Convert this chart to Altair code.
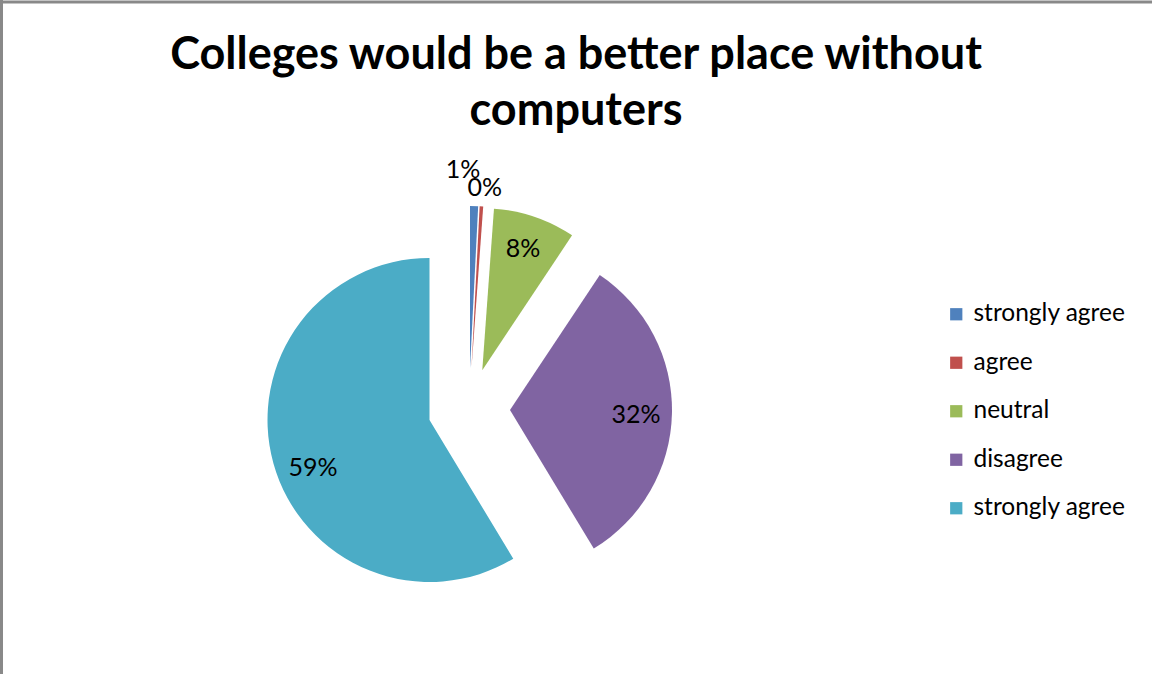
import json
import altair as alt
import pandas as pd

# ---- data ----
categories = ["strongly agree", "agree", "neutral", "disagree", "strongly agree"]
shares = [0.8, 0.35, 8.2, 32.0, 58.65]
colors = ["#4F81BD", "#C0504D", "#9BBB59", "#8064A2", "#4BACC6"]
title_lines = ["Colleges would be a better place without", "computers"]

# ---- layout (styling, not data) ----
W, H = 1152, 674
CX, CY = 469, 409          # pie centre
R = 162                    # pie radius
EXPLODE = 41               # explosion distance
label_r = [198, 182, 126, 126, 126]
label_nudge_x = [-12, 2, 0, 0, 5]
label_nudge_y = [0, 2, -2, 2, 14]
FONT = "Lato"

keys = [f"{i}" for i in range(len(categories))]
df = pd.DataFrame({
    "key": keys,
    "idx": list(range(len(categories))),
    "cat": categories,
    "val": shares,
    "lr": label_r,
    "ldx": label_nudge_x,
    "ldy": label_nudge_y,
})

base = alt.Chart(df).transform_window(
    cum="sum(val)", sort=[alt.SortField("idx")], frame=[None, 0]
).transform_joinaggregate(
    total="sum(val)"
).transform_calculate(
    a0="(datum.cum - datum.val) / datum.total * 2 * PI",
    a1="datum.cum / datum.total * 2 * PI",
).transform_calculate(
    mid="(datum.a0 + datum.a1) / 2",
    pct="datum.val / datum.total",
).transform_calculate(
    cx=f"{CX} + {EXPLODE} * sin(datum.mid)",
    cy=f"{CY} - {EXPLODE} * cos(datum.mid)",
).transform_calculate(
    lx="datum.cx + datum.lr * sin(datum.mid) + datum.ldx",
    ly="datum.cy - datum.lr * cos(datum.mid) + datum.ldy",
    lab="format(datum.pct, '.0%')",
)

label_expr = json.dumps(categories) + "[toNumber(datum.value)]"

arcs = base.mark_arc(radius=R, strokeWidth=0).encode(
    x=alt.X("cx:Q", scale=None),
    y=alt.Y("cy:Q", scale=None),
    theta=alt.Theta("a0:Q", scale=None),
    theta2=alt.Theta2("a1:Q"),
    color=alt.Color(
        "key:N",
        scale=alt.Scale(domain=keys, range=colors),
        legend=alt.Legend(
            title=None,
            orient="none",
            legendX=944,
            legendY=302,
            symbolType="square",
            symbolSize=150,
            symbolStrokeWidth=0,
            labelFont=FONT,
            labelFontSize=24.5,
            labelColor="#000000",
            labelOffset=5,
            rowPadding=23.5,
            labelExpr=label_expr,
        ),
    ),
)

labels = base.mark_text(
    font=FONT, fontSize=25, color="#000000", align="center", baseline="middle"
).encode(
    x=alt.X("lx:Q", scale=None),
    y=alt.Y("ly:Q", scale=None),
    text="lab:N",
)

title = alt.Chart(pd.DataFrame({"t": ["\n".join(title_lines)]})).mark_text(
    font=FONT, fontSize=45, fontWeight="bold", color="#000000",
    align="center", baseline="alphabetic", lineBreak="\n", lineHeight=56,
).encode(x=alt.value(576), y=alt.value(69), text="t:N")

border_top = alt.Chart(pd.DataFrame({"a": [0]})).mark_rule(
    color="#898989", strokeWidth=3
).encode(x=alt.value(0), x2=alt.value(W), y=alt.value(2))
border_left = alt.Chart(pd.DataFrame({"a": [0]})).mark_rule(
    color="#898989", strokeWidth=3
).encode(x=alt.value(1.5), y=alt.value(0), y2=alt.value(H))

chart = alt.layer(arcs, labels, title, border_top, border_left).properties(
    width=W, height=H,
    autosize=alt.AutoSizeParams(type="none"),
    padding=0,
    background="white",
).configure_view(stroke=None)

chart.save("out.html", embed_options={"renderer": "svg", "actions": False})
